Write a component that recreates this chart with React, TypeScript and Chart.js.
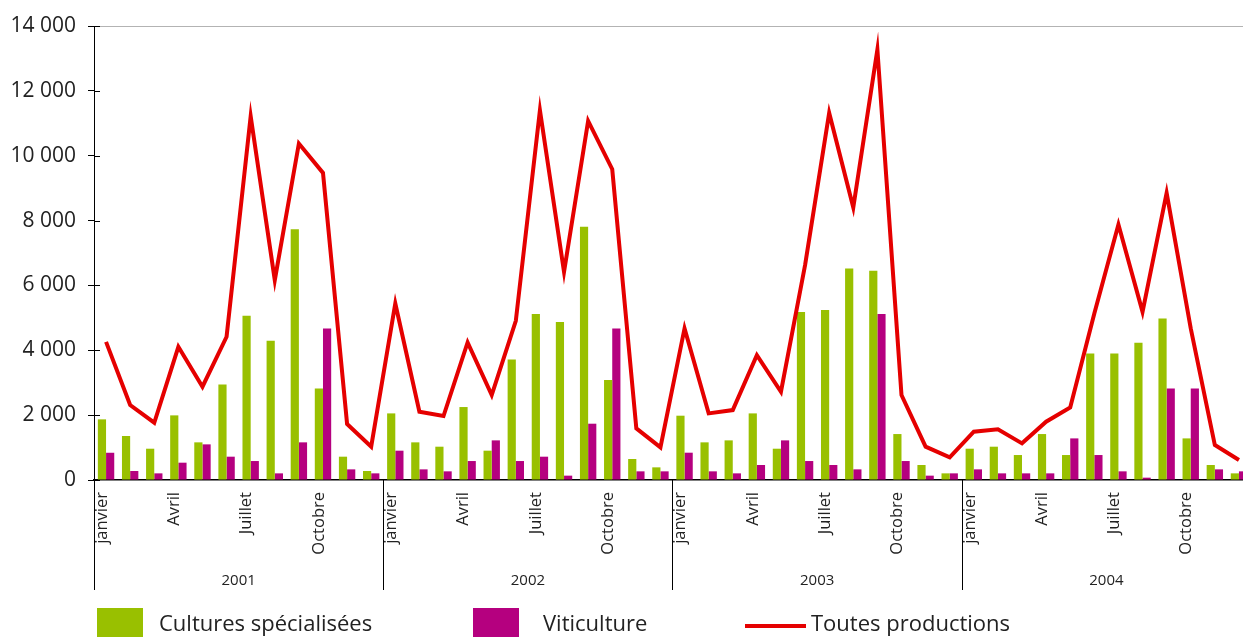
import { useEffect, useRef } from 'react';
import { Chart, registerables } from 'chart.js';

Chart.register(...registerables);

const MONTH_LABELS = ['janvier', '', '', 'Avril', '', '', 'Juillet', '', '', 'Octobre', '', ''];
const YEARS = ['2001', '2002', '2003', '2004'];

const CULTURES = [
  1870, 1356, 965, 1993, 1161, 2948, 5065, 4293, 7735, 2825, 719, 277,
  2054, 1161, 1027, 2250, 904, 3719, 5116, 4869, 7806, 3082, 647, 390,
  1983, 1161, 1222, 2054, 965, 5177, 5239, 6524, 6451, 1417, 462, 205,
  965, 1027, 770, 1417, 770, 3903, 3903, 4232, 4982, 1283, 462, 205,
];
const VITICULTURE = [
  840, 277, 205, 534, 1099, 719, 585, 205, 1161, 4673, 328, 205,
  904, 328, 267, 585, 1222, 585, 719, 134, 1736, 4673, 267, 267,
  842, 267, 205, 462, 1222, 585, 462, 328, 5116, 585, 134, 205,
  328, 205, 205, 205, 1283, 770, 267, 72, 2825, 2825, 328, 267,
];
const TOUTES = [
  4260, 2311, 1766, 4108, 2876, 4417, 11217, 6163, 10376, 9470, 1726, 1027,
  5444, 2106, 1972, 4242, 2619, 4910, 11402, 6420, 11073, 9584, 1592, 1006,
  4673, 2054, 2157, 3852, 2722, 6625, 11320, 8403, 13272, 2619, 1027, 699,
  1490, 1561, 1130, 1797, 2239, 5136, 7879, 5187, 8855, 4673, 1078, 616,
];

const SERIES_NAMES = ['Cultures spécialisées', 'Viticulture', 'Toutes productions'];
const GREEN = '#99c000';
const MAGENTA = '#b5007f';
const RED = '#e50000';

const CATEGORIES = YEARS.flatMap(() => MONTH_LABELS.slice());

const fmt = (v: number) => String(v).replace(/\B(?=(\d{3})+(?!\d))/g, ' ');

const FONT = "'Open Sans', 'Noto Sans', sans-serif";

const axisDecor = {
  id: 'axisDecor',
  afterDraw(chart: any) {
    const { ctx, chartArea, scales } = chart;
    const x = scales.x;
    const y = scales.y;
    ctx.save();
    ctx.strokeStyle = '#000';
    ctx.lineWidth = 1;
    y.ticks.forEach((t: any) => {
      const py = Math.round(y.getPixelForValue(t.value)) + 0.5;
      ctx.beginPath();
      ctx.moveTo(chartArea.left, py);
      ctx.lineTo(chartArea.left + 6, py);
      ctx.stroke();
    });
    const cw = (x.right - x.left) / CATEGORIES.length;
    ctx.fillStyle = '#222';
    ctx.font = `15px ${FONT}`;
    ctx.textAlign = 'center';
    ctx.textBaseline = 'middle';
    YEARS.forEach((yr, i) => {
      const start = x.getPixelForValue(i * 12) - cw / 2;
      const px = Math.round(start) + 0.5;
      ctx.beginPath();
      ctx.moveTo(px, chartArea.bottom);
      ctx.lineTo(px, 590);
      ctx.stroke();
      ctx.fillText(yr, start + 6 * cw, 581);
    });
    ctx.restore();
  },
};

export default function App() {
  const ref = useRef<HTMLCanvasElement>(null);

  useEffect(() => {
    if (!ref.current) return;
    const chart = new Chart(ref.current, {
      type: 'bar',
      data: {
        labels: CATEGORIES,
        datasets: [
          {
            type: 'line',
            label: SERIES_NAMES[2],
            data: TOUTES,
            borderColor: RED,
            backgroundColor: RED,
            borderWidth: 4,
            pointRadius: 0,
            tension: 0,
            order: 0,
          } as any,
          {
            label: SERIES_NAMES[0],
            data: CULTURES,
            backgroundColor: GREEN,
            categoryPercentage: 0.68,
            barPercentage: 1,
            order: 1,
          },
          {
            label: SERIES_NAMES[1],
            data: VITICULTURE,
            backgroundColor: MAGENTA,
            categoryPercentage: 0.68,
            barPercentage: 1,
            order: 1,
          },
        ],
      },
      options: {
        animation: false,
        responsive: false,
        layout: { padding: { top: 26, right: 1, left: 0, bottom: 0 } },
        plugins: { legend: { display: false }, tooltip: { enabled: false } },
        scales: {
          x: {
            grid: { display: false, drawTicks: false },
            border: { display: true, color: '#000', width: 1.5 },
            ticks: {
              autoSkip: false,
              maxRotation: 90,
              minRotation: 90,
              padding: 12,
              labelOffset: -4,
              color: '#222',
              font: { family: FONT, size: 16.5 },
            },
            afterFit: (s: any) => {
              s.height = 157;
              s.paddingRight = 0;
              s.paddingLeft = 0;
            },
          },
          y: {
            min: 0,
            max: 14000,
            grid: {
              drawTicks: true,
              tickLength: 6,
              tickColor: '#000',
              color: (c: any) => (c.tick && c.tick.value === 14000 ? '#b3b3b3' : 'rgba(0,0,0,0)'),
            },
            border: { display: true, color: '#000', width: 1 },
            ticks: {
              stepSize: 2000,
              padding: 12,
              color: '#222',
              font: { family: FONT, size: 21 },
              callback: (v: any) => fmt(Number(v)),
            },
            afterFit: (s: any) => {
              s.width = 94;
            },
          },
        },
      },
      plugins: [axisDecor],
    });
    return () => chart.destroy();
  }, []);

  const legendItems = [
    { name: SERIES_NAMES[0], color: GREEN, kind: 'box', boxLeft: 97, textLeft: 159 },
    { name: SERIES_NAMES[1], color: MAGENTA, kind: 'box', boxLeft: 473, textLeft: 543 },
    { name: SERIES_NAMES[2], color: RED, kind: 'line', boxLeft: 745, textLeft: 811 },
  ];

  return (
    <div
      style={{
        position: 'absolute',
        left: 0,
        top: 0,
        width: 1243,
        height: 637,
        overflow: 'hidden',
        background: '#fff',
      }}
    >
      <canvas
        ref={ref}
        width={1252}
        height={637}
        style={{ position: 'absolute', left: 0, top: 0, width: 1252, height: 637 }}
      />
      {legendItems.map((it) => (
        <div key={it.name}>
          {it.kind === 'box' ? (
            <div
              style={{
                position: 'absolute',
                left: it.boxLeft,
                top: 608,
                width: 46,
                height: 30,
                background: it.color,
              }}
            />
          ) : (
            <div
              style={{
                position: 'absolute',
                left: it.boxLeft,
                top: 624,
                width: 61,
                height: 4,
                background: it.color,
              }}
            />
          )}
          <div
            style={{
              position: 'absolute',
              left: it.textLeft,
              top: 607,
              fontFamily: FONT,
              fontSize: 22,
              color: '#222',
              whiteSpace: 'nowrap',
            }}
          >
            {it.name}
          </div>
        </div>
      ))}
    </div>
  );
}
